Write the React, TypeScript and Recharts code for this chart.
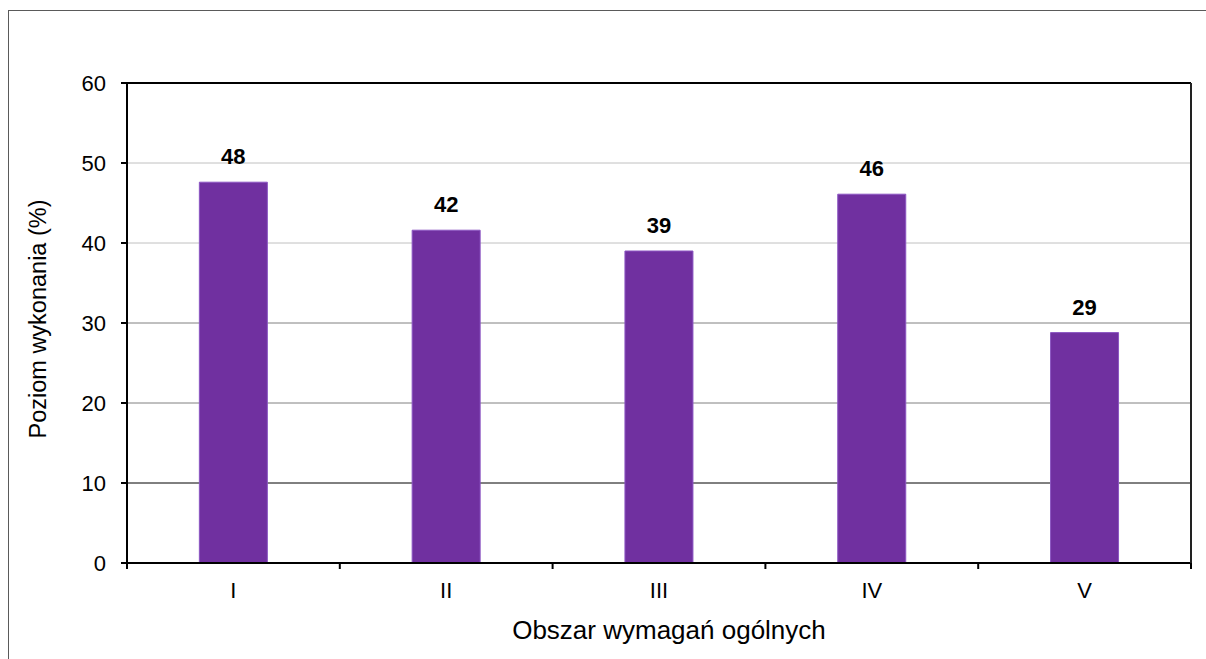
import { BarChart, Bar, XAxis, YAxis, CartesianGrid, LabelList } from "recharts";

const categories = ["I", "II", "III", "IV", "V"];
const values = [47.6, 41.6, 39.0, 46.1, 28.8];
const yTicks = [0, 10, 20, 30, 40, 50, 60];

const data = categories.map((name, i) => ({ name, value: values[i] }));

// the reference draws its grid lines in uneven shades
const lightGrid = [40, 50];
const midGrid = [20, 30];
const darkGrid = [10];

const font = "'Liberation Sans', Arial, sans-serif";
const TICK_SIZE = 6;
const TICK_MARGIN = 13;

// category label plus tick marks on the category boundaries (Excel style)
function CategoryTick(props: any) {
  const { x, y, payload, index } = props;
  const half = payload?.offset ?? 0;
  const axisY = y - TICK_SIZE - TICK_MARGIN;
  const mark = (px: number) => (
    <line x1={px} y1={axisY} x2={px} y2={axisY + TICK_SIZE} stroke="#000" strokeWidth={2} />
  );
  return (
    <g>
      {mark(x - half)}
      {index === categories.length - 1 && mark(x + half)}
      <text x={x} y={y} dy="0.71em" textAnchor="middle" fontSize={22} fontFamily={font} fill="#000">
        {payload.value}
      </text>
    </g>
  );
}

export default function App() {
  return (
    <div
      style={{
        position: "fixed",
        left: 8,
        top: 10,
        width: 1210,
        height: 660,
        border: "1px solid #5a5a5a",
        background: "#fff",
        fontFamily: font,
      }}
    >
      <BarChart
        width={1198}
        height={650}
        data={data}
        margin={{ top: 71, right: 15, left: 0, bottom: 38 }}
        barCategoryGap="34%"
      >
        <CartesianGrid xAxisId="cat" yAxisId="left" vertical={false} horizontalValues={lightGrid} stroke="#c0c0c0" />
        <CartesianGrid xAxisId="cat" yAxisId="left" vertical={false} horizontalValues={midGrid} stroke="#808080" />
        <CartesianGrid xAxisId="cat" yAxisId="left" vertical={false} horizontalValues={darkGrid} stroke="#000" />
        <XAxis
          xAxisId="top"
          orientation="top"
          height={1}
          tick={false}
          tickLine={false}
          axisLine={{ stroke: "#000", strokeWidth: 2 }}
        />
        <XAxis
          xAxisId="cat"
          dataKey="name"
          height={60}
          interval={0}
          axisLine={{ stroke: "#000", strokeWidth: 2 }}
          tickLine={false}
          tickSize={TICK_SIZE}
          tickMargin={TICK_MARGIN}
          tick={<CategoryTick />}
          label={{
            content: (p: any) => {
              const vb = p.viewBox;
              return (
                <text
                  x={vb.x + vb.width / 2 + 10}
                  y={vb.y + 76}
                  textAnchor="middle"
                  fontSize={26}
                  fontFamily={font}
                  fill="#000"
                >
                  Obszar wymagań ogólnych
                </text>
              );
            },
          }}
        />
        <YAxis
          yAxisId="left"
          width={118}
          domain={[0, 60]}
          ticks={yTicks}
          interval={0}
          tickSize={6}
          tickMargin={15}
          tick={{ fill: "#000", fontSize: 22, fontFamily: font }}
          tickLine={{ stroke: "#000", strokeWidth: 2 }}
          axisLine={{ stroke: "#000", strokeWidth: 2 }}
          label={{
            content: (p: any) => {
              const vb = p.viewBox;
              const cx = vb.x + 29;
              const cy = vb.y + vb.height / 2 - 4;
              return (
                <text
                  x={cx}
                  y={cy}
                  transform={`rotate(-90 ${cx} ${cy})`}
                  textAnchor="middle"
                  dominantBaseline="central"
                  fontSize={23.5}
                  fontFamily={font}
                  fill="#000"
                >
                  Poziom wykonania (%)
                </text>
              );
            },
          }}
        />
        <YAxis
          yAxisId="right"
          orientation="right"
          width={1}
          domain={[0, 60]}
          tick={false}
          tickLine={false}
          axisLine={{ stroke: "#222", strokeWidth: 2 }}
        />
        <Bar
          xAxisId="cat"
          yAxisId="left"
          dataKey="value"
          fill="#7030a0"
          stroke="#8b55c2"
          strokeWidth={1}
          isAnimationActive={false}
        >
          <LabelList
            dataKey="value"
            position="top"
            offset={18}
            formatter={(v: any) => Math.round(Number(v))}
            style={{ fontSize: 22, fontWeight: "bold", fill: "#000", fontFamily: font }}
          />
        </Bar>
      </BarChart>
    </div>
  );
}
